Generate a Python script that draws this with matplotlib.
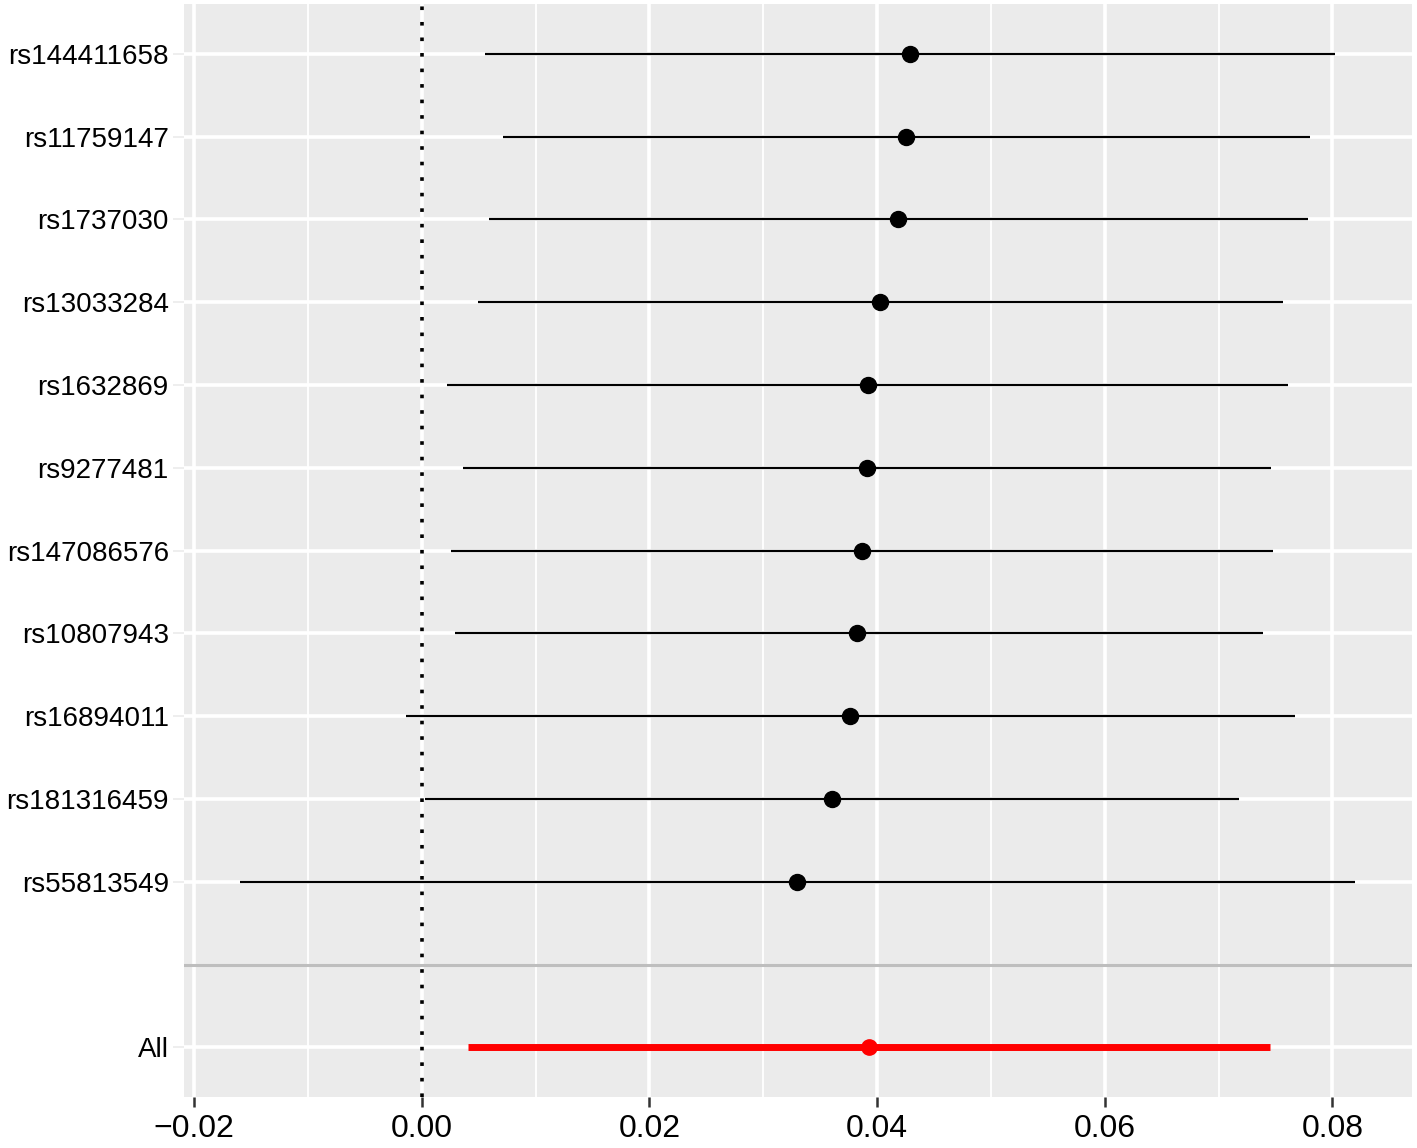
import numpy as np
import matplotlib.pyplot as plt
from matplotlib.ticker import MultipleLocator

# Данные (оценка и доверительный интервал для каждого SNP)
snps = ['rs144411658', 'rs11759147', 'rs1737030', 'rs13033284', 'rs1632869',
        'rs9277481', 'rs147086576', 'rs10807943', 'rs16894011', 'rs181316459',
        'rs55813549']
b = [0.0429, 0.0425, 0.0418, 0.0403, 0.0392, 0.0391, 0.0387, 0.0382, 0.0376, 0.0360, 0.0330]
lo = [0.0056, 0.0071, 0.0059, 0.0049, 0.0022, 0.0036, 0.0026, 0.0029, -0.0014, 0.0003, -0.0160]
hi = [0.0802, 0.0780, 0.0779, 0.0757, 0.0761, 0.0746, 0.0748, 0.0739, 0.0767, 0.0718, 0.0820]

all_label = 'All'
all_b = 0.0393
all_lo = 0.0041
all_hi = 0.0745

xticks = [-0.02, 0.00, 0.02, 0.04, 0.06, 0.08]

plt.rcParams['font.family'] = ['Liberation Sans', 'DejaVu Sans']

fig = plt.figure(figsize=(14.17, 11.48), dpi=100)
ax = fig.add_axes([0.1299, 0.0444, 0.8666, 0.9521])
ax.set_facecolor('#EBEBEB')

# Позиции строк: SNP сверху, пустая строка, затем "All"
n = len(snps)
ypos = np.arange(n + 2, 2, -1)
all_y = 1
gap_y = 2

ax.set_xlim(-0.02088, 0.08700)
ax.set_ylim(0.4, n + 2.6)

# Сетка
ax.xaxis.set_major_locator(MultipleLocator(0.02))
ax.xaxis.set_minor_locator(MultipleLocator(0.01))
ax.grid(which='major', color='white', lw=2.6, zorder=0)
ax.grid(which='minor', axis='x', color='white', lw=1.3, zorder=0)
ax.set_axisbelow(True)

ax.set_yticks(list(ypos) + [all_y])
ax.set_yticklabels(snps + [all_label])
ax.set_xticks(xticks)
ax.set_xticklabels(['\u22120.02', '0.00', '0.02', '0.04', '0.06', '0.08'])

for s in ax.spines.values():
    s.set_visible(False)

ax.tick_params(axis='x', which='major', length=7, width=1.8, color='#333333',
               labelsize=23, pad=5, labelcolor='black')
ax.tick_params(axis='x', which='minor', length=0)
ax.tick_params(axis='y', length=8, width=1.2, color='#EBEBEB',
               labelsize=20, pad=3, labelcolor='black')

# Нулевая линия и разделитель
ax.axvline(0, color='black', lw=2.6, linestyle=(0, (1, 3.3)), zorder=2)
ax.axhline(gap_y, color='#BEBEBE', lw=2.2, zorder=1)

# Интервалы и точки
ax.hlines(ypos, lo, hi, color='black', lw=1.6, zorder=3)
ax.plot(b, ypos, 'o', color='black', ms=11.5, zorder=4)

ax.hlines(all_y, all_lo, all_hi, color='#FF0000', lw=5, zorder=3)
ax.plot(all_b, all_y, 'o', color='#FF0000', ms=11, zorder=4)

fig.savefig('out.png', dpi=100)
